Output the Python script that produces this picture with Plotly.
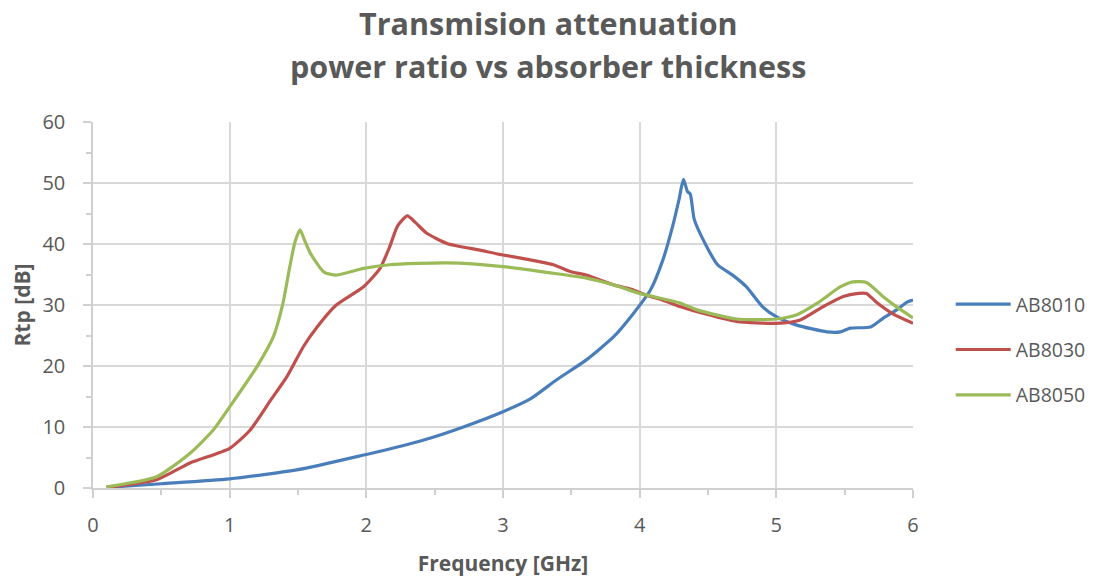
import plotly.graph_objects as go

# ---- data ----
freq_ab8010 = [0.1, 0.5, 1.0, 1.5, 2.0, 2.17, 2.47, 2.71, 3.0, 3.2, 3.39, 3.61, 3.81, 3.95,
               4.08, 4.17, 4.24, 4.29, 4.32, 4.35, 4.37, 4.4, 4.49, 4.57, 4.68, 4.78, 4.9,
               5.0, 5.15, 5.37, 5.47, 5.54, 5.69, 5.78, 5.88, 5.96, 6.0]
rtp_ab8010 = [0.1, 0.7, 1.5, 3.0, 5.5, 6.4, 8.2, 10.0, 12.5, 14.6, 17.7, 21.0, 24.8, 28.5,
              32.5, 37.4, 42.8, 47.5, 50.6, 48.6, 48.2, 44.0, 39.6, 36.6, 34.9, 33.0, 29.7,
              28.1, 26.7, 25.6, 25.6, 26.2, 26.4, 27.8, 29.2, 30.5, 30.8]

freq_ab8030 = [0.1, 0.47, 0.71, 1.0, 1.15, 1.3, 1.42, 1.54, 1.64, 1.78, 1.98, 2.1, 2.17,
               2.23, 2.3, 2.36, 2.44, 2.59, 2.83, 3.0, 3.2, 3.37, 3.49, 3.61, 3.81, 3.95,
               4.05, 4.17, 4.3, 4.42, 4.71, 5.0, 5.17, 5.34, 5.49, 5.6, 5.66, 5.73, 5.85, 6.0]
rtp_ab8030 = [0.1, 1.4, 4.1, 6.5, 9.5, 14.4, 18.3, 23.2, 26.4, 30.0, 33.0, 36.0, 39.5,
              43.0, 44.6, 43.5, 41.8, 40.1, 39.0, 38.2, 37.4, 36.6, 35.5, 34.9, 33.3, 32.5,
              31.6, 30.8, 29.7, 28.9, 27.3, 27.0, 27.5, 29.7, 31.4, 31.9, 31.9, 30.5, 28.6, 27.0]

freq_ab8050 = [0.1, 0.47, 0.71, 0.88, 1.0, 1.2, 1.32, 1.39, 1.44, 1.48, 1.515, 1.55, 1.59,
               1.69, 1.78, 1.98, 2.17, 2.59, 3.0, 3.37, 3.61, 3.81, 4.0, 4.3, 4.42, 4.71,
               5.0, 5.15, 5.3, 5.47, 5.56, 5.66, 5.78, 5.88, 6.0]
rtp_ab8050 = [0.2, 1.9, 5.7, 9.5, 13.3, 19.9, 24.8, 30.3, 36.3, 40.5, 42.3, 40.5, 38.5,
              35.4, 34.9, 36.0, 36.6, 36.9, 36.3, 35.2, 34.4, 33.3, 31.9, 30.3, 29.2, 27.7,
              27.7, 28.4, 30.3, 33.0, 33.8, 33.7, 31.4, 29.7, 27.9]

series_names = ["AB8010", "AB8030", "AB8050"]
series_colors = ["#4a7ebb", "#c0504d", "#9bbb59"]
title_lines = ["Transmision attenuation", "power ratio vs absorber thickness"]

FONT = "Open Sans"
GRAY = "#595959"
AXIS_GRAY = "#d0d0d0"

# page has an 8px body margin; figure offset compensated in the margins
W, H = 1089, 569
L, T, PW, PH = 85, 114, 820, 366

fig = go.Figure()
for name, xs, ys, col in zip(series_names,
                             [freq_ab8010, freq_ab8030, freq_ab8050],
                             [rtp_ab8010, rtp_ab8030, rtp_ab8050],
                             series_colors):
    fig.add_trace(go.Scatter(x=xs, y=ys, mode="lines", name=name, legendgroup=name,
                             line=dict(color=col, width=3.2, shape="spline", smoothing=0.6)))

# two-line title as real text, placed line by line
for txt, ypix in zip(title_lines, [23, 66]):
    fig.add_annotation(text="<b>%s</b>" % txt, xref="paper", yref="paper",
                       x=(548 - 93) / PW, y=1 + (122 - ypix) / PH,
                       xanchor="center", yanchor="middle", showarrow=False,
                       font=dict(family=FONT, size=30.5, color=GRAY))

fig.update_layout(
    width=W, height=H,
    margin=dict(l=L, r=W - L - PW, t=T, b=H - T - PH, autoexpand=False),
    paper_bgcolor="white", plot_bgcolor="white",
    font=dict(family=FONT, color=GRAY, size=20),
    xaxis=dict(range=[0, 6], dtick=1, tick0=0, showgrid=True, gridcolor="#d9d9d9", gridwidth=1.5,
               showline=True, linecolor=AXIS_GRAY, linewidth=1.5, automargin=False,
               ticks="outside", ticklen=8, tickcolor=AXIS_GRAY, tickwidth=1.5,
               ticklabelstandoff=10,
               minor=dict(dtick=0.5, ticks="outside", ticklen=5, tickcolor=AXIS_GRAY,
                          tickwidth=1.5, showgrid=False),
               zeroline=False, tickfont=dict(size=20, color=GRAY),
               title=dict(text="<b>Frequency [GHz]</b>", font=dict(size=21, color=GRAY), standoff=20)),
    yaxis=dict(range=[0, 60], dtick=10, showgrid=True, gridcolor="#d9d9d9", gridwidth=1.5,
               showline=True, linecolor=AXIS_GRAY, linewidth=1.5, automargin=False,
               ticks="outside", ticklen=8, tickcolor=AXIS_GRAY, tickwidth=1.5,
               ticklabelstandoff=14,
               minor=dict(dtick=5, ticks="outside", ticklen=5, tickcolor=AXIS_GRAY,
                          tickwidth=1.5, showgrid=False),
               zeroline=False, tickfont=dict(size=20, color=GRAY),
               title=dict(text="<b>Rtp [dB]</b>", font=dict(size=21, color=GRAY), standoff=12)),
    legend=dict(x=1.046, xanchor="left", y=(488 - 350) / PH, yanchor="middle",
                font=dict(size=19.5, color=GRAY), tracegroupgap=17, itemwidth=55,
                borderwidth=0, bgcolor="rgba(0,0,0,0)"),
)

fig.write_html("out.html")
